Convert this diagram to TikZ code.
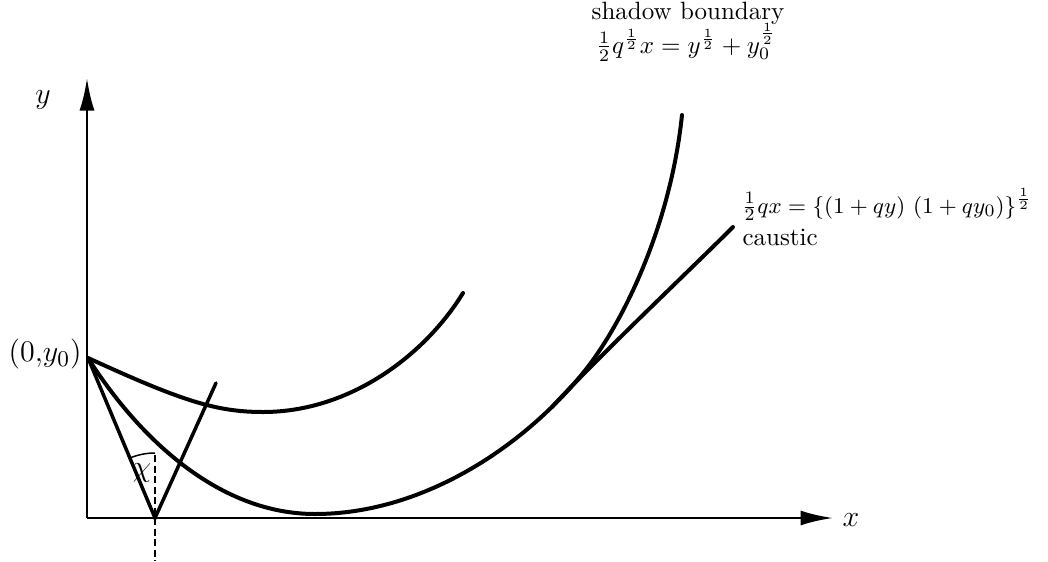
\documentclass[tikz,border=0pt]{standalone}
\usetikzlibrary{arrows.meta}
\begin{document}
\begin{tikzpicture}[x=0.4pt,y=-0.4pt,
  curve/.style={line width=1.6pt, line cap=round, line join=round},
  arm/.style={line width=1.4pt, line cap=round, line join=miter},
  axis/.style={line width=1.1pt, -{Latex[length=13pt,width=6pt]}},
  dashline/.style={line width=1.1pt, dash pattern=on 2.8pt off 1.4pt},
  lbl/.style={inner sep=0pt},
  biglbl/.style={inner sep=0pt, font=\fontsize{13}{15}\selectfont}]
\useasboundingbox (0,0) rectangle (1048,561);
% key points
\coordinate (O) at (87,518);
\coordinate (Y0) at (88,358);
\coordinate (V) at (155,518);
\coordinate (Atop) at (216,383);
\coordinate (Ytip) at (87,78);
\coordinate (Xtip) at (833,518);
\coordinate (Dtop) at (155,455);
\coordinate (Dbot) at (155,561);
\coordinate (Umin) at (263,412);
\coordinate (Uend) at (463,293);
\coordinate (Lmin) at (315,514);
\coordinate (Ltan) at (583,373);
\coordinate (Send) at (682,115);
\coordinate (Cstart) at (552,407);
\coordinate (Cend) at (733,227);
% axes
\draw[axis] (O) -- (Ytip);
\draw[axis] (O) -- (Xtip);
% upper ray
\draw[curve] (Y0) .. controls (180,400) and (215,412) .. (Umin)
  .. controls (350,412) and (425,355) .. (Uend);
% lower ray and shadow boundary
\draw[curve] (Y0) .. controls (140,440) and (220,514) .. (Lmin)
  .. controls (420,514) and (520,450) .. (Ltan)
  .. controls (620,328) and (670,230) .. (Send);
% caustic
\draw[curve] (Cstart) .. controls (600,355) and (690,270) .. (Cend);
% reflected ray V
\draw[arm] (Y0) -- (V) -- (Atop);
% dashed normal
\draw[dashline] (Dtop) -- (Dbot);
% angle arc
\draw[line width=0.6pt] plot[domain=90:113,samples=20] ({155+65*cos(\x)},{518-65*sin(\x)});
\node[lbl, font=\large] (chi) at (142,473) {$\chi$};
% labels
\node[biglbl] (ylab) at (43,100) {$y$};
\node[biglbl] (xlab) at (851,520) {$x$};
\node[biglbl, anchor=east] (y0lab) at (82,354) {$(0{,}y_0)$};
\node[lbl, anchor=base] (sb) at (688,19) {shadow boundary};
\node[lbl, anchor=base] (sbeq) at (686,53) {$\frac12 q^{\frac12}x=y^{\frac12}+y_0^{\frac12}$};
\node[lbl, anchor=base west, font=\fontsize{9.5}{11}\selectfont] (ceq) at (741,213) {$\frac12 qx=\{(1+qy)\ (1+qy_0)\}^{\frac12}$};
\node[lbl, anchor=base west] (clab) at (742,245) {caustic};
\end{tikzpicture}
\end{document}
